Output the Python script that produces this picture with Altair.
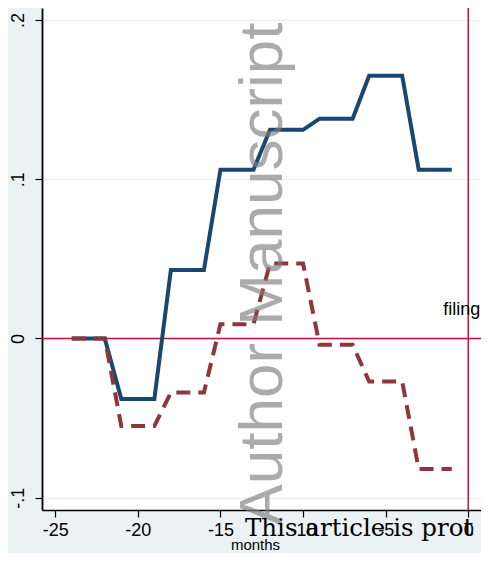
import altair as alt
import pandas as pd

months = list(range(-24, 0))
series_a = [0, 0, 0, -0.038, -0.038, -0.038, 0.043, 0.043, 0.043, 0.106, 0.106, 0.106,
            0.131, 0.131, 0.131, 0.138, 0.138, 0.138, 0.165, 0.165, 0.165, 0.106, 0.106, 0.106]
series_b = [0, 0, 0, -0.055, -0.055, -0.055, -0.034, -0.034, -0.034, 0.009, 0.009, 0.009,
            0.047, 0.047, 0.047, -0.004, -0.004, -0.004, -0.027, -0.027, -0.027, -0.082, -0.082, -0.082]
x_ticks = [-25, -20, -15, -10, -5, 0]
y_ticks = [-0.1, 0, 0.1, 0.2]
filing_label = "filing"
filing_y = 0.0149

df_a = pd.DataFrame({"month": months, "value": series_a})
df_b = pd.DataFrame({"month": months, "value": series_b})

xscale = alt.Scale(domain=[-25.8, 0.77], nice=False, zero=False)
yscale = alt.Scale(domain=[-0.1077, 0.2075], nice=False, zero=False)

xaxis = alt.Axis(values=x_ticks, grid=False, title="months", labelFont="Liberation Sans",
                 labelExpr="(datum.value < 0 ? '-' : '') + format(abs(datum.value), 'd')",
                 labelFontSize=18, labelColor="black", tickColor="black", tickSize=7,
                 tickWidth=1.2, domainColor="black", domainWidth=1.5, labelPadding=4,
                 titleFont="Liberation Sans", titleFontSize=15, titleFontWeight="normal",
                 titleColor="black", titleX=213, titleY=39, titleBaseline="alphabetic",
                 titleAnchor="start", titleAlign="center", labelFlush=False)
yaxis = alt.Axis(values=y_ticks, grid=True, gridColor="#EAF2F3", gridWidth=1.5, title=None,
                 labelExpr="datum.value == 0 ? '0' : (datum.value < 0 ? '-' : '') + replace(format(abs(datum.value), '.1f'), '0.', '.')",
                 labelAngle=270, labelAlign="center", labelBaseline="bottom",
                 labelFont="Liberation Sans", labelFontSize=18, labelColor="black",
                 tickColor="black", tickSize=7, tickWidth=1.2, domainColor="black",
                 domainWidth=1.8, labelPadding=8)

line_a = alt.Chart(df_a).mark_line(color="#1A476F", strokeWidth=4, strokeJoin="miter").encode(
    x=alt.X("month:Q", scale=xscale, axis=xaxis),
    y=alt.Y("value:Q", scale=yscale, axis=yaxis),
)
line_b = alt.Chart(df_b).mark_line(color="#90353B", strokeWidth=4, strokeDash=[14, 8]).encode(
    x=alt.X("month:Q", scale=xscale),
    y=alt.Y("value:Q", scale=yscale),
)

hrule = alt.Chart(pd.DataFrame({"v": [0]})).mark_rule(color="#C8103C", strokeWidth=1.5).encode(
    y=alt.Y("v:Q", scale=yscale)
)
vrule = alt.Chart(pd.DataFrame({"m": [0]})).mark_rule(color="#C8103C", strokeWidth=1.5).encode(
    x=alt.X("m:Q", scale=xscale)
)
filing = alt.Chart(pd.DataFrame({"m": [0], "v": [filing_y], "t": [filing_label]})).mark_text(
    font="Liberation Sans", fontSize=18, align="right", dx=12, baseline="alphabetic", color="black"
).encode(x=alt.X("m:Q", scale=xscale), y=alt.Y("v:Q", scale=yscale), text="t:N")

watermark = alt.Chart(pd.DataFrame({"t": ["Author Manuscript"]})).mark_text(
    font="Liberation Sans", fontSize=62, angle=270, align="center", baseline="middle",
    color="#7f7f7f", opacity=0.65
).encode(x=alt.value(221), y=alt.value(266), text="t:N")

notice = alt.Chart(pd.DataFrame({"t": ["This article is prot"]})).mark_text(
    font="DejaVu Serif", fontSize=24.5, align="left", baseline="alphabetic", color="black"
).encode(x=alt.value(203), y=alt.value(528), text="t:N")

chart = alt.layer(hrule, vrule, line_a, line_b, filing, watermark, notice).properties(
    width=439, height=502,
    autosize=alt.AutoSizeParams(type="none"),
    padding={"left": 34, "top": 0, "right": 0, "bottom": 43},
    background="#EAF2F3",
).configure_view(fill="white", stroke=None)

chart.save("out.html", embed_options={"renderer": "svg", "actions": False})
